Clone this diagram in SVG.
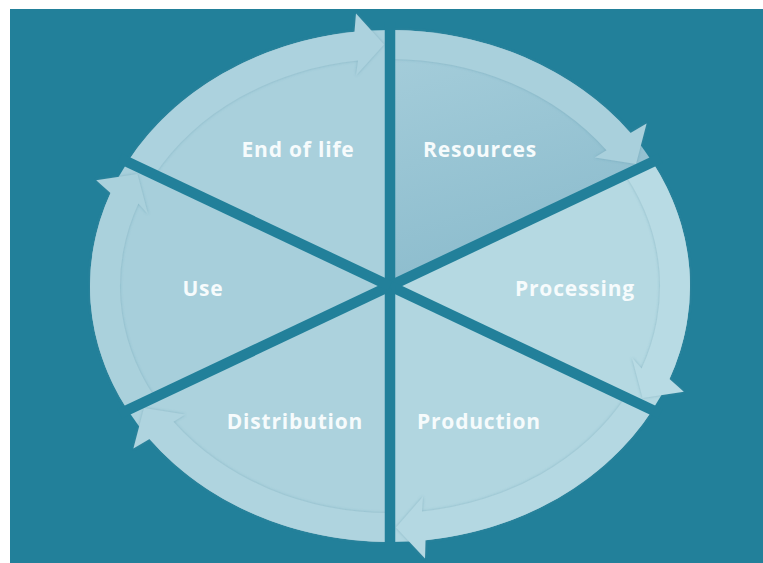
<svg xmlns="http://www.w3.org/2000/svg" width="763" height="563" viewBox="0 0 763 563">
  <defs>
    <style>
      .bg { fill: #22809a; }
      .wedge { stroke: none; }
      .arrow { filter: url(#soft); }
      .divider { stroke: #22809a; stroke-width: 10.5; stroke-linecap: butt; fill: none; }
      .label { font-family: "Open Sans", "Liberation Sans", sans-serif; font-weight: 700; font-size: 21px; fill: #f6fbfc; text-anchor: middle; letter-spacing: 0.8px; }
    </style>
    <linearGradient id="resGrad" x1="0" y1="0" x2="0.3" y2="1">
      <stop offset="0" stop-color="#a6cedb"/>
      <stop offset="1" stop-color="#8cbccd"/>
    </linearGradient>
    <filter id="soft" x="-10%" y="-10%" width="120%" height="120%">
      <feDropShadow dx="0" dy="0" stdDeviation="1.6" flood-color="#4f8ea3" flood-opacity="0.45"/>
    </filter>
  </defs>

  <!-- canvas -->
  <rect x="0" y="0" width="763" height="563" fill="#ffffff"/>
  <rect class="bg" x="10" y="9" width="753" height="554"/>

  <!-- stages of the cycle, clockwise from the top -->
  <g id="stage-resources">
    <path class="wedge" fill="url(#resGrad)" d="M390,286 L390,30 A300,256 0 0 1 652.4,161.9 Z"/>
    <text class="label" x="480" y="157">Resources</text>
  </g>
  <g id="stage-processing">
    <path class="wedge" fill="#b5d9e2" d="M390,286 L652.4,161.9 A300,256 0 0 1 652.4,410.1 Z"/>
    <text class="label" x="575" y="296">Processing</text>
  </g>
  <g id="stage-production">
    <path class="wedge" fill="#b1d6e0" d="M390,286 L652.4,410.1 A300,256 0 0 1 390,542 Z"/>
    <text class="label" x="479" y="429">Production</text>
  </g>
  <g id="stage-distribution">
    <path class="wedge" fill="#acd2dd" d="M390,286 L390,542 A300,256 0 0 1 127.6,410.1 Z"/>
    <text class="label" x="295" y="429">Distribution</text>
  </g>
  <g id="stage-use">
    <path class="wedge" fill="#a7cfdb" d="M390,286 L127.6,410.1 A300,256 0 0 1 127.6,161.9 Z"/>
    <text class="label" x="203" y="296">Use</text>
  </g>
  <g id="stage-end-of-life">
    <path class="wedge" fill="#a9d0dc" d="M390,286 L127.6,161.9 A300,256 0 0 1 390,30 Z"/>
    <text class="label" x="298" y="157">End of life</text>
  </g>

  <!-- curved arrows running round the rim -->
  <g id="connectors">
    <path class="arrow" fill="#a9d0dc" d="M390,30 A300,256 0 0 1 630.5,133.0 L646.6,123.5 L636.0,163.9 L594.8,157.5 L606.5,150.3 A270,227 0 0 0 390,59 Z"/>
    <path class="arrow" fill="#b8dbe4" d="M652.4,161.9 A300,256 0 0 1 669.5,379.0 L683.8,391.7 L642.6,398.1 L632.0,357.7 L641.6,368.5 A270,227 0 0 0 626.1,175.9 Z"/>
    <path class="arrow" fill="#b4d8e2" d="M652.4,410.1 A300,256 0 0 1 425.5,540.2 L425,558.5 L396,527.5 L423,496.5 L422,511.4 A270,227 0 0 0 626.1,396.1 Z"/>
    <path class="arrow" fill="#afd4df" d="M390,542 A300,256 0 0 1 149.5,439.0 L133.4,448.5 L144.0,408.1 L185.2,414.5 L173.5,421.7 A270,227 0 0 0 390,513 Z"/>
    <path class="arrow" fill="#aad1dc" d="M127.6,410.1 A300,256 0 0 1 110.5,193.0 L96.2,180.3 L137.4,173.9 L148.0,214.3 L138.4,203.5 A270,227 0 0 0 153.9,396.1 Z"/>
    <path class="arrow" fill="#acd2de" d="M127.6,161.9 A300,256 0 0 1 354.5,31.8 L356,13.5 L384,44.5 L356,75.5 L358,60.6 A270,227 0 0 0 153.9,175.9 Z"/>
  </g>

  <!-- spokes separating the stages -->
  <g id="dividers">
    <line class="divider" x1="390" y1="286" x2="390" y2="22"/>
    <line class="divider" x1="390" y1="286" x2="660.3" y2="158.2"/>
    <line class="divider" x1="390" y1="286" x2="660.3" y2="413.8"/>
    <line class="divider" x1="390" y1="286" x2="390" y2="550"/>
    <line class="divider" x1="390" y1="286" x2="119.7" y2="413.8"/>
    <line class="divider" x1="390" y1="286" x2="119.7" y2="158.2"/>
  </g>
</svg>
